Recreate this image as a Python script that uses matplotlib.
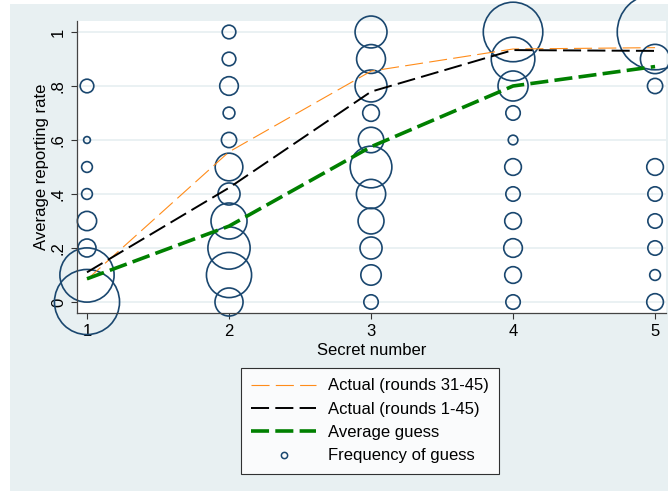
import matplotlib
matplotlib.use('Agg')
import matplotlib.pyplot as plt
from matplotlib.patches import Rectangle
from matplotlib.lines import Line2D

plt.rcParams['font.family'] = ['Liberation Sans', 'DejaVu Sans']
plt.rcParams['lines.scale_dashes'] = False

# Lines: average by secret number
secret = [1, 2, 3, 4, 5]
actual_31_45 = [0.083, 0.556, 0.855, 0.937, 0.942]
actual_1_45 = [0.110, 0.423, 0.779, 0.933, 0.930]
avg_guess = [0.086, 0.281, 0.575, 0.800, 0.872]

# Guesses (reported rate) and their frequency, per secret number
guess_x = ([1] * 8 + [2] * 11 + [3] * 11 + [4] * 11 + [5] * 9)
guess_y = ([0.8, 0.6, 0.5, 0.4, 0.3, 0.2, 0.1, 0.0]
           + [1.0, 0.9, 0.8, 0.7, 0.6, 0.5, 0.4, 0.3, 0.2, 0.1, 0.0]
           + [1.0, 0.9, 0.8, 0.7, 0.6, 0.5, 0.4, 0.3, 0.2, 0.1, 0.0]
           + [1.0, 0.9, 0.8, 0.7, 0.6, 0.5, 0.4, 0.3, 0.2, 0.1, 0.0]
           + [1.0, 0.9, 0.8, 0.5, 0.4, 0.3, 0.2, 0.1, 0.0])
guess_freq = ([8, 2, 5, 5, 16, 14, 127, 183]
              + [8, 8, 15, 6, 10, 33, 21, 56, 77, 88, 34]
              + [44, 36, 44, 12, 28, 75, 37, 29, 21, 18, 9]
              + [153, 82, 39, 9, 4, 12, 9, 12, 15, 12, 9]
              + [247, 37, 10, 12, 9, 9, 9, 5, 12])

y_ticks = [0, 0.2, 0.4, 0.6, 0.8, 1.0]
y_ticklabels = ['0', '.2', '.4', '.6', '.8', '1']

navy = '#1A476F'
bg = '#E8F0F2'

fig = plt.figure(figsize=(6.68, 4.91), dpi=100)
fig.patches.append(Rectangle((10 / 668, 0), 1 - 10 / 668, 1 - 4 / 491,
                             transform=fig.transFigure, facecolor=bg,
                             edgecolor='none', zorder=-10))
ax = fig.add_axes([77 / 668, 1 - 313 / 491, 589 / 668, 292 / 491])
ax.set_facecolor('white')

ax.scatter(guess_x, guess_y, s=[12 * f for f in guess_freq], facecolors='none',
           edgecolors=navy, linewidths=1.2, clip_on=False, zorder=2)

ax.plot(secret, actual_31_45, color='#FF8C1A', lw=0.8, dashes=(13, 4.5), zorder=3)
ax.plot(secret, actual_1_45, color='black', lw=1.4, dashes=(13, 4.5), zorder=3)
ax.plot(secret, avg_guess, color='#008000', lw=2.6, dashes=(13, 4.5), zorder=4)

ax.set_xlim(0.9296, 5.077)
ax.set_ylim(-0.0407, 1.0407)
ax.set_xticks(secret)
ax.set_yticks(y_ticks)
ax.set_yticklabels(y_ticklabels, rotation=90, va='center')
ax.tick_params(direction='out', length=4, width=0.8, color='#333333',
               labelsize=12, pad=4)
ax.grid(axis='y', color=bg, lw=1.3)
ax.set_axisbelow(True)
for side in ['top', 'right']:
    ax.spines[side].set_visible(False)
for side in ['left', 'bottom']:
    ax.spines[side].set_color('#444444')
    ax.spines[side].set_linewidth(0.9)

ax.set_xlabel('Secret number', fontsize=12, labelpad=3)
ax.set_ylabel('Average reporting rate', fontsize=12, labelpad=1)

handles = [
    Line2D([], [], color='#FF8C1A', lw=0.8, dashes=(13, 4.5)),
    Line2D([], [], color='black', lw=1.4, dashes=(13, 4.5)),
    Line2D([], [], color='#008000', lw=2.6, dashes=(13, 4.5)),
    Line2D([], [], ls='none', marker='o', ms=4.5, mfc='none', mec=navy, mew=1.1),
]
labels = ['Actual (rounds 31-45)', 'Actual (rounds 1-45)', 'Average guess',
          'Frequency of guess']
leg = fig.legend(handles, labels, loc='upper left',
                 bbox_to_anchor=(241 / 668, 1 - 368 / 491), borderaxespad=0,
                 fontsize=12, frameon=True, fancybox=False, handlelength=3.9,
                 handletextpad=0.7, labelspacing=0.5, borderpad=0.62)
leg.get_frame().set_edgecolor('black')
leg.get_frame().set_linewidth(0.8)

fig.savefig('out.png', dpi=100)
